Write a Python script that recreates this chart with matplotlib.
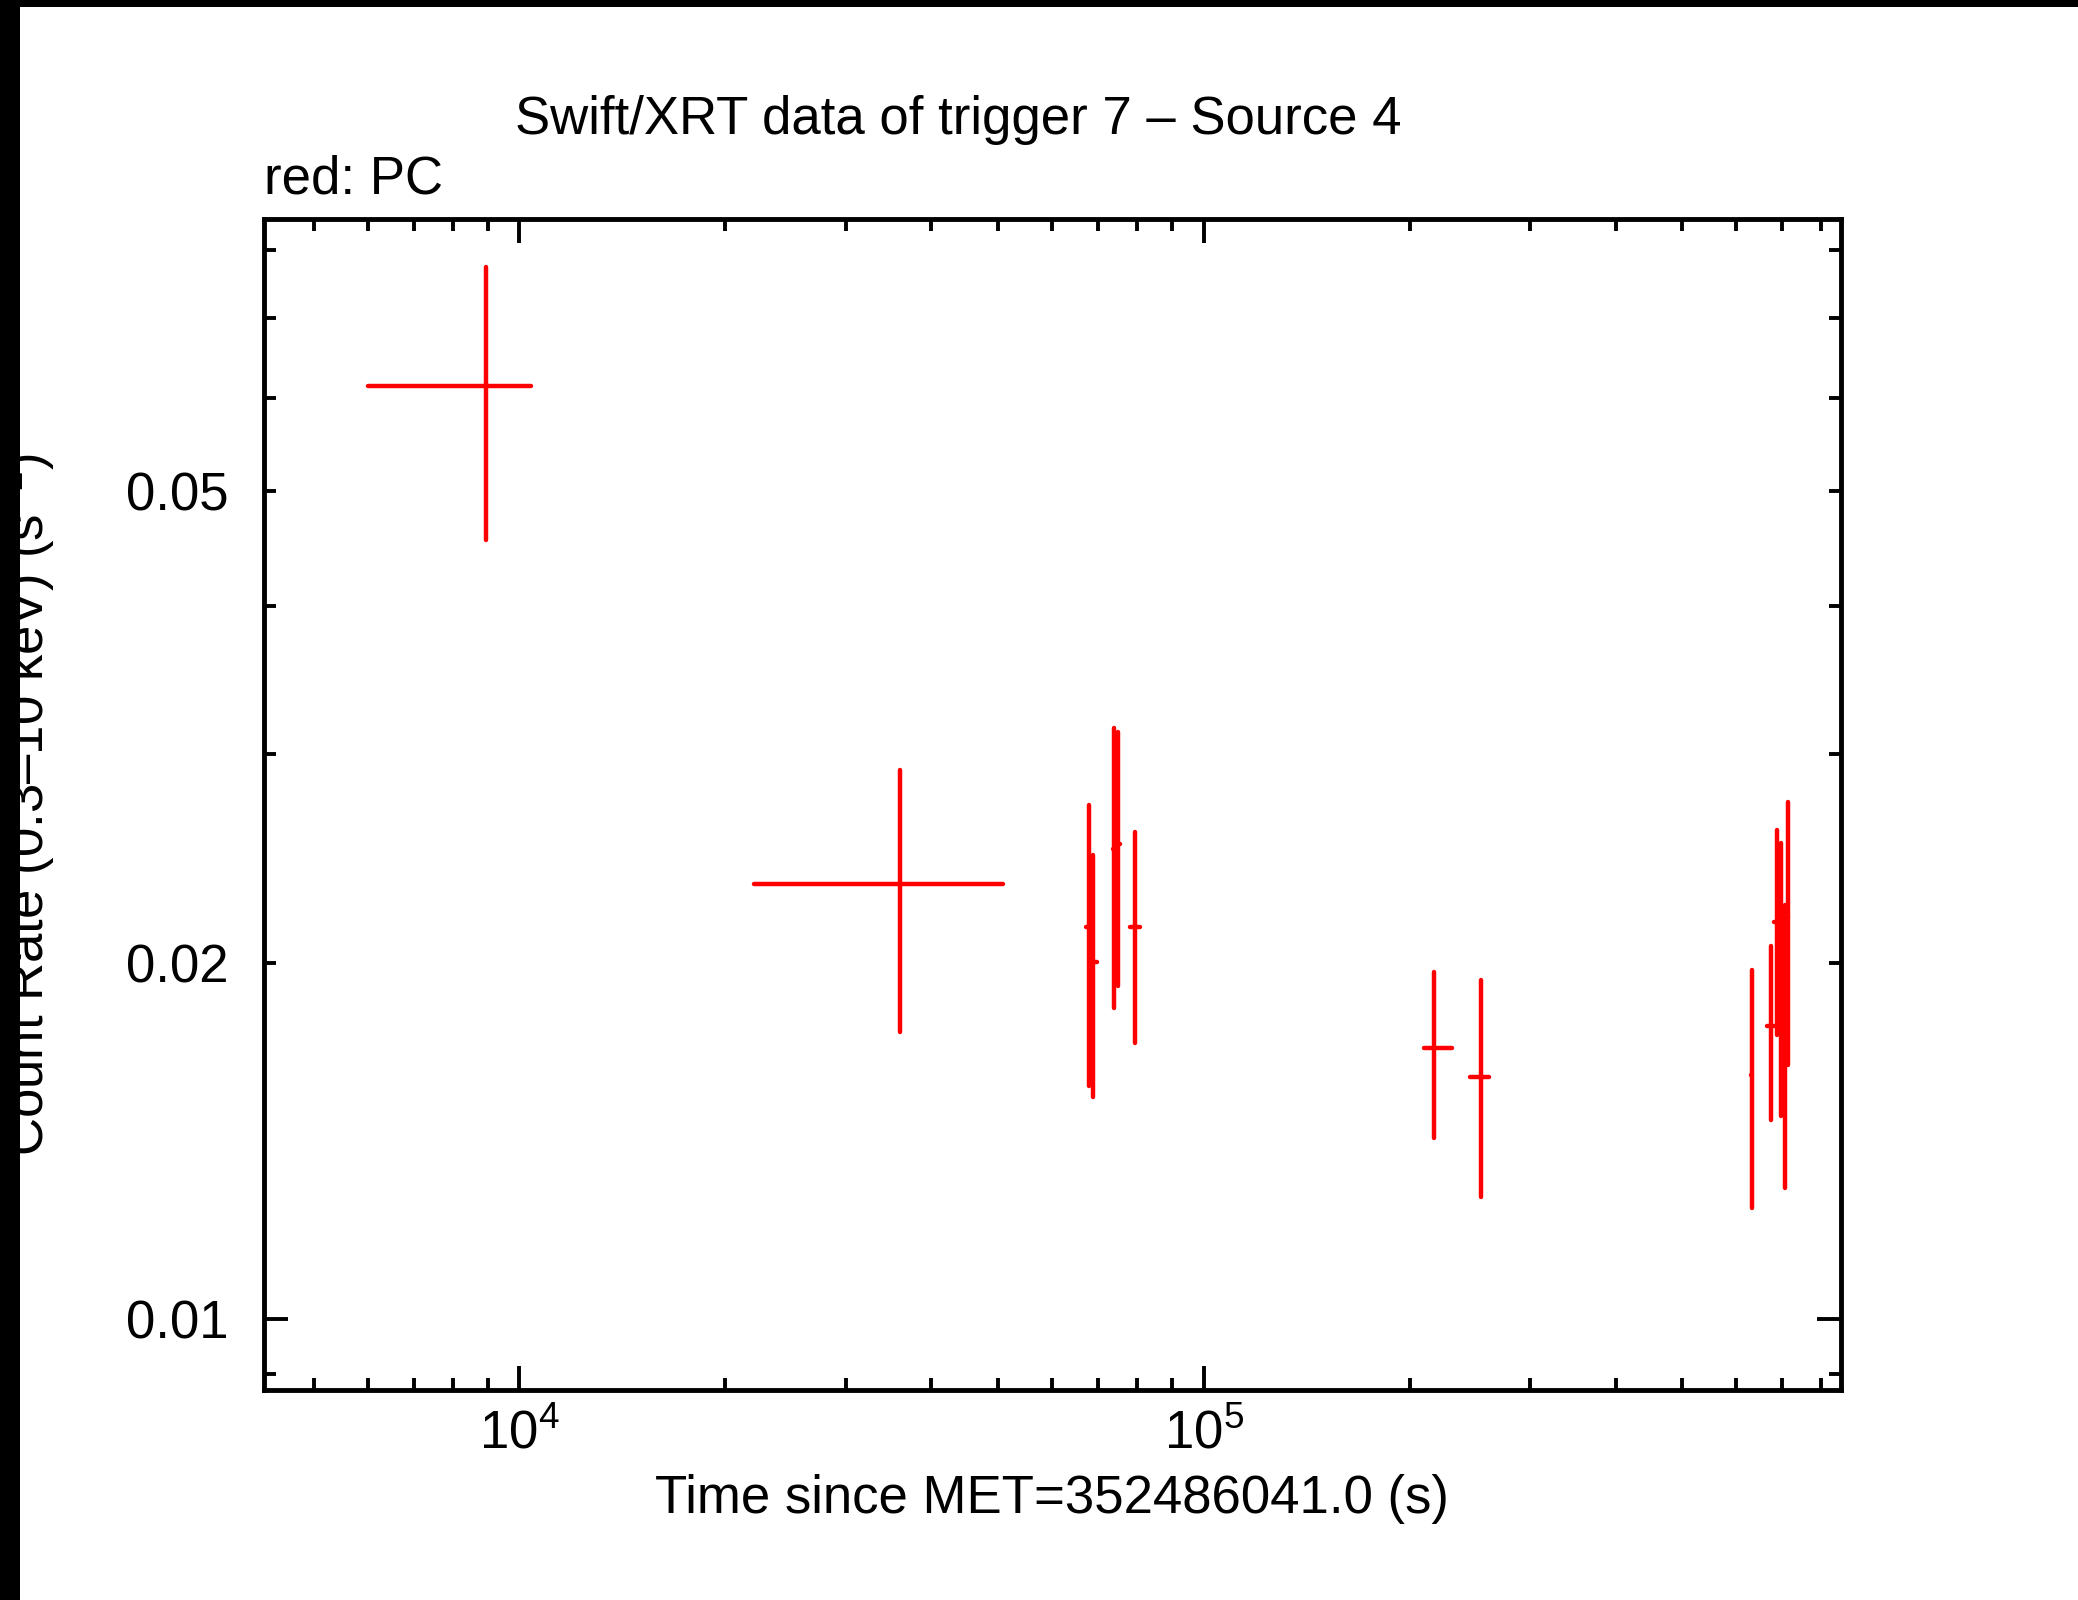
import matplotlib
matplotlib.use("Agg")
import matplotlib.pyplot as plt
from matplotlib.patches import Rectangle
from matplotlib.ticker import FixedLocator, FixedFormatter, FuncFormatter

# Swift/XRT PC light curve
time = [8935, 35980, 67990, 68970, 74020, 74880, 79360, 217300, 254000,
        632300, 674100, 687900, 697100, 707300, 713700]
time_neg = [2923, 13970, 700, 270, 430, 460, 1340, 7400, 9000,
            1500, 7600, 5200, 2000, 2000, 2000]
time_pos = [1451, 14970, 700, 800, 380, 690, 1340, 13600, 7000,
            1500, 12200, 4200, 2000, 2000, 2000]
rate = [0.0614, 0.0233, 0.02145, 0.02004, 0.02496, 0.02522, 0.02144, 0.01695, 0.01601,
        0.01607, 0.01770, 0.02164, 0.02006, 0.01764, 0.02188]
rate_err = [0.0159, 0.0058, 0.00571, 0.00462, 0.00663, 0.00609, 0.00434, 0.00271, 0.00333,
            0.00365, 0.00297, 0.00426, 0.00521, 0.00474, 0.00548]

x_major = [1e4, 1e5]
x_major_labels = [r"$10^{4}$", r"$10^{5}$"]
x_minor = [5e3, 6e3, 7e3, 8e3, 9e3, 2e4, 3e4, 4e4, 5e4, 6e4, 7e4, 8e4, 9e4,
           2e5, 3e5, 4e5, 5e5, 6e5, 7e5, 8e5]
y_major = [0.01]
y_major_labels = ["0.01"]
y_minor = [0.009, 0.02, 0.03, 0.04, 0.05, 0.06, 0.07, 0.08]
y_minor_labels = {0.02: "0.02", 0.05: "0.05"}

title = "Swift/XRT data of trigger 7 \u2013 Source 4"
subtitle = "red: PC"
xlabel = "Time since MET=352486041.0 (s)"
ylabel = "Count Rate (0.3\u201310 keV) (s$^{-1}$)"

plt.rcParams["font.family"] = ["Liberation Sans", "DejaVu Sans"]
plt.rcParams["mathtext.fontset"] = "custom"
plt.rcParams["mathtext.rm"] = "Liberation Sans"
plt.rcParams["mathtext.it"] = "Liberation Sans:italic"
plt.rcParams["mathtext.bf"] = "Liberation Sans:bold"

fs = 38
W, H = 2078, 1600
fig = plt.figure(figsize=(W / 100, H / 100), dpi=100)
# axes box in pixels: x 263.5..1841, y 219..1390
ax = fig.add_axes([263.5 / W, 1 - 1390 / H, (1841 - 263.5) / W, (1390 - 219) / H])

eb = ax.errorbar(time, rate, xerr=[time_neg, time_pos], yerr=rate_err,
                 fmt="none", ecolor="#ff0000", elinewidth=3.2, capsize=0)
for lc in eb[2]:
    lc.set_capstyle("round")

ax.set_xscale("log")
ax.set_yscale("log")
ax.set_xlim(4225, 854300)
ax.set_ylim(0.008717, 0.08492)

ax.xaxis.set_major_locator(FixedLocator(x_major))
ax.xaxis.set_major_formatter(FixedFormatter(x_major_labels))
ax.xaxis.set_minor_locator(FixedLocator(x_minor))
ax.xaxis.set_minor_formatter(FuncFormatter(lambda v, p: ""))
ax.yaxis.set_major_locator(FixedLocator(y_major))
ax.yaxis.set_major_formatter(FixedFormatter(y_major_labels))
ax.yaxis.set_minor_locator(FixedLocator(y_minor))
ax.yaxis.set_minor_formatter(FuncFormatter(
    lambda v, p: next((s for k, s in y_minor_labels.items() if abs(v - k) < 1e-6), "")))

ax.tick_params(which="both", direction="in", top=True, right=True,
               labelsize=fs, width=2.8, colors="black")
ax.tick_params(which="major", length=17)
ax.tick_params(which="minor", length=8.6)
ax.tick_params(axis="x", which="both", pad=14)
ax.tick_params(axis="y", which="both", pad=25)
for s in ax.spines.values():
    s.set_linewidth(3.5)

ax.set_xlabel(xlabel, fontsize=fs)
ax.xaxis.label.set_va("baseline")
ax.xaxis.set_label_coords(0.5, -(1513 - 1390) / (1390 - 219))
ax.set_ylabel(ylabel, fontsize=fs)
ax.yaxis.label.set_va("baseline")
ax.yaxis.set_label_coords((44 - 263.5) / (1841 - 263.5), 0.5)

fig.text(958 / W, 1 - 134 / H, title, fontsize=fs, ha="center", va="baseline")
fig.text(264 / W, 1 - 194 / H, subtitle, fontsize=fs, ha="left", va="baseline")

# black strips along the top and left edge of the picture
fig.add_artist(Rectangle((0, 0), 20 / W, 1, transform=fig.transFigure,
                         facecolor="black", edgecolor="none", zorder=10))
fig.add_artist(Rectangle((0, 1 - 7 / H), 1, 7 / H, transform=fig.transFigure,
                         facecolor="black", edgecolor="none", zorder=10))

fig.savefig("out.png", dpi=100)
